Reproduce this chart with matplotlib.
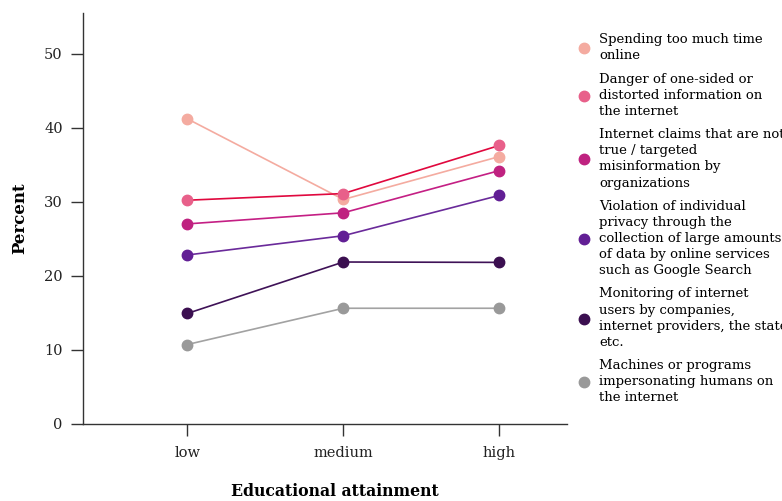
import matplotlib
matplotlib.use("Agg")
import matplotlib.pyplot as plt
from matplotlib.lines import Line2D

categories = ["low", "medium", "high"]
series_names = [
    "Spending too much time\nonline",
    "Danger of one-sided or\ndistorted information on\nthe internet",
    "Internet claims that are not\ntrue / targeted\nmisinformation by\norganizations",
    "Violation of individual\nprivacy through the\ncollection of large amounts\nof data by online services\nsuch as Google Search",
    "Monitoring of internet\nusers by companies,\ninternet providers, the state\netc.",
    "Machines or programs\nimpersonating humans on\nthe internet",
]
spending = [41.2, 30.3, 36.1]
danger = [30.2, 31.1, 37.6]
claims = [27.0, 28.5, 34.2]
privacy = [22.8, 25.4, 30.85]
monitoring = [14.9, 21.85, 21.8]
machines = [10.7, 15.6, 15.6]
values = [spending, danger, claims, privacy, monitoring, machines]
yticks = [0, 10, 20, 30, 40, 50]

marker_colors = ["#f4aba0", "#e8608a", "#bf2280", "#621f95", "#3b0f50", "#999999"]
line_colors = ["#f4aba0", "#e0083e", "#c41f84", "#6a2a9a", "#3f1257", "#a2a2a2"]

plt.rcParams["font.family"] = ["DejaVu Serif"]

fig = plt.figure(figsize=(7.82, 5.01), dpi=100)
ax = fig.add_axes([83/782, 1 - 423.7/501, (567-83)/782, (423.7-13)/501])

x = list(range(len(categories)))
for vals, mc, lc in zip(values, marker_colors, line_colors):
    ax.plot(x, vals, color=lc, linewidth=1.2, zorder=2)
    ax.plot(x, vals, linestyle="none", marker="o", markersize=7.5,
            markerfacecolor=mc, markeredgecolor=mc, zorder=3)

ax.set_xlim(-0.669, 2.434)
ax.set_ylim(0, 55.5)
ax.set_xticks(x)
ax.set_xticklabels(categories)
ax.set_yticks(yticks)
ax.tick_params(axis="both", length=8.5, width=1.0, color="#333333",
               labelsize=10.5, pad=6, labelcolor="#222222")
ax.tick_params(axis="x", pad=7.5)
for s in ["top", "right"]:
    ax.spines[s].set_visible(False)
for s in ["left", "bottom"]:
    ax.spines[s].set_color("#333333")
    ax.spines[s].set_linewidth(1.0)

ax.set_ylabel("Percent", fontsize=12, fontweight="bold")
ax.set_xlabel("Educational attainment", fontsize=11.3, fontweight="bold")
ax.yaxis.set_label_coords(-0.114, 0.5)
ax.xaxis.set_label_coords(0.52, -0.145)

handles = [Line2D([0], [0], linestyle="none", marker="o", markersize=7.5,
                  markerfacecolor=mc, markeredgecolor=mc) for mc in marker_colors]
leg = fig.legend(handles, series_names, loc="upper left",
                 bbox_to_anchor=(573/782, 1 - 28/501), frameon=False,
                 fontsize=9.5, handlelength=0.8, handletextpad=0.8,
                 labelspacing=0.76, borderaxespad=0)
for t in leg.get_texts():
    t.set_linespacing(1.32)

fig.savefig("out.png", dpi=100)
